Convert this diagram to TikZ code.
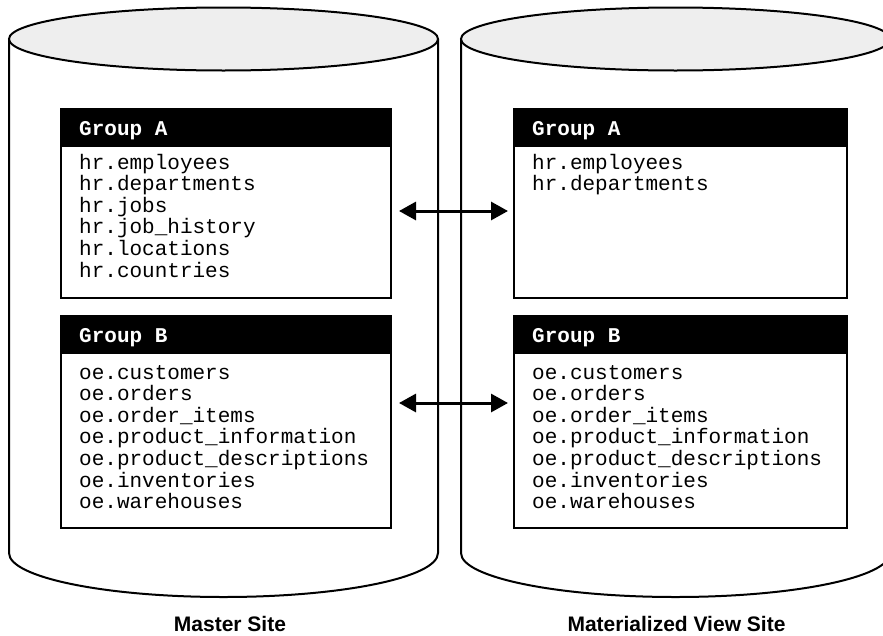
\documentclass[tikz,border=0pt]{standalone}
\usepackage{fontspec}
\newfontfamily\courfont{Liberation Mono}
\newfontfamily\helvfont{Liberation Sans}
\usetikzlibrary{arrows.meta}
\definecolor{lidgray}{HTML}{EEEEEE}
\begin{document}
\begin{tikzpicture}[x=1pt,y=-1pt,
  wall/.style={draw=black,line width=2pt,fill=white},
  lid/.style={draw=black,line width=2pt,fill=lidgray},
  grp/.style={draw=black,line width=2pt,fill=white,inner sep=0pt,anchor=north west},
  hdr/.style={fill=black,inner sep=0pt,anchor=north west,minimum height=39pt},
  hdrtext/.style={font=\courfont\bfseries\fontsize{21}{21.3}\selectfont,text=white,inner sep=0pt,anchor=base west},
  list/.style={font=\courfont\fontsize{21}{21.3}\selectfont,inner sep=0pt,anchor=base west},
  site/.style={font=\helvfont\bfseries\fontsize{21}{24}\selectfont,inner sep=0pt,anchor=base},
  sync/.style={line width=3pt,{Triangle[length=17pt,width=18pt]}-{Triangle[length=17pt,width=18pt]},shorten <=7pt,shorten >=5pt}
]
\useasboundingbox (0,0) rectangle (883,635);
% master cylinder
\draw[wall] (9,39) -- (9,553) arc[start angle=180,end angle=360,x radius=214.5pt,y radius=44pt] -- (438,39);
\draw[lid] (223.5,39) ellipse[x radius=214.5pt,y radius=31.5pt];
% mv cylinder
\draw[wall] (461,39) -- (461,553) arc[start angle=180,end angle=360,x radius=214.5pt,y radius=44pt] -- (890,39);
\draw[lid] (675.5,39) ellipse[x radius=214.5pt,y radius=31.5pt];

% master boxes
\node[grp,minimum width=330pt,minimum height=189pt] (mA) at (60,108) {};
\node[hdr,minimum width=330pt] (mAh) at (60,108) {};
\node[hdrtext] (mAt) at (79,135) {Group A};
\node[list] (mAl) at (79,169) {\begin{tabular}[t]{@{}l@{}}hr.employees\\hr.departments\\hr.jobs\\hr.job\_history\\hr.locations\\hr.countries\end{tabular}};

\node[grp,minimum width=330pt,minimum height=212pt] (mB) at (60,315) {};
\node[hdr,minimum width=330pt] (mBh) at (60,315) {};
\node[hdrtext] (mBt) at (79,342) {Group B};
\node[list] (mBl) at (79,379) {\begin{tabular}[t]{@{}l@{}}oe.customers\\oe.orders\\oe.order\_items\\oe.product\_information\\oe.product\_descriptions\\oe.inventories\\oe.warehouses\end{tabular}};

% mv boxes
\node[grp,minimum width=333pt,minimum height=189pt] (vA) at (513,108) {};
\node[hdr,minimum width=333pt] (vAh) at (513,108) {};
\node[hdrtext] (vAt) at (532,135) {Group A};
\node[list] (vAl) at (532,169) {\begin{tabular}[t]{@{}l@{}}hr.employees\\hr.departments\end{tabular}};

\node[grp,minimum width=333pt,minimum height=212pt] (vB) at (513,315) {};
\node[hdr,minimum width=333pt] (vBh) at (513,315) {};
\node[hdrtext] (vBt) at (532,342) {Group B};
\node[list] (vBl) at (532,379) {\begin{tabular}[t]{@{}l@{}}oe.customers\\oe.orders\\oe.order\_items\\oe.product\_information\\oe.product\_descriptions\\oe.inventories\\oe.warehouses\end{tabular}};

% arrows
\draw[sync] ([yshift=-7.5pt]mA.east) -- ([yshift=-7.5pt]vA.west);
\draw[sync] ([yshift=19pt]mB.east) -- ([yshift=19pt]vB.west);

% labels
\node[site] (ms) at (230,631) {Master Site};
\node[site] (mvs) at (676.5,631) {Materialized View Site};
\end{tikzpicture}
\end{document}
